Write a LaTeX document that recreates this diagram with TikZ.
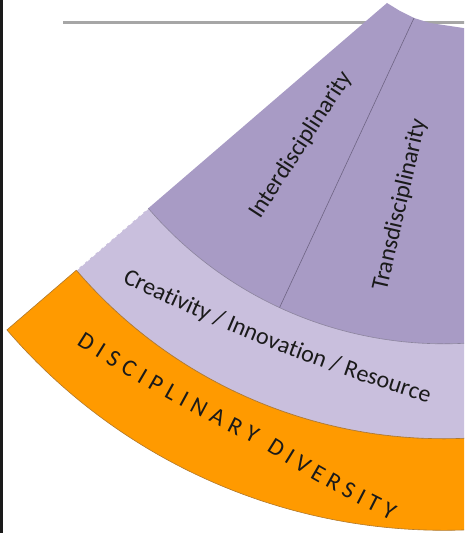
\documentclass[tikz,border=0pt]{standalone}
\usepackage{fontspec}
\newfontfamily\fanfont{Carlito}
\usepackage{xcolor}
\usepackage{tikz}
\usetikzlibrary{
    calc,
    decorations.text
}
\definecolor{fanpurple}{HTML}{A89BC5}
\definecolor{fanlilac}{HTML}{C9BFDD}
\definecolor{fanorange}{HTML}{FF9A00}
\definecolor{fanrule}{HTML}{A6A6A6}
\definecolor{fanedge}{HTML}{B0782C}
\definecolor{fanline}{HTML}{6E6484}
\definecolor{fantext}{HTML}{1A1A1A}
\newcommand{\fansize}{\fanfont\fontsize{24}{28}\selectfont}
\tikzset{
    % Straight label inside a sector
    sectorlabel/.style={
        font=\fansize,
        text=fantext,
        inner sep=0pt
    },
    % Label that follows a band
    bandlabel/.style={
        decorate,
        decoration={
            text along path,
            text align={fit to path},
            text color=fantext,
            text={|\fansize|#1}
        }
    },
    % Thin edge of a band
    bandedge/.style={
        draw=#1,
        line width=0.6pt
    },
    bandedge/.default=fanedge
}

\begin{document}
\begin{tikzpicture}[x=1pt, y=1pt]
    \useasboundingbox (0,0) rectangle (464,533);
    \begin{scope}
        \clip (0,0) rectangle (464,533);
        % rule behind the fan
        \coordinate (rule-l) at (63,510);
        \coordinate (rule-r) at (470,510);
        \draw[fanrule, line width=3pt] (rule-l) -- (rule-r);

        \coordinate (hub) at (443.5,578.6);
        % orange band
        \filldraw[fill=fanorange, bandedge]
            ([shift={(220.7:484.3)}]hub) arc[start angle=220.7, end angle=300, radius=484.3]
            -- ([shift={(300:575.9)}]hub) arc[start angle=300, end angle=220.7, radius=575.9]
            -- cycle;
        % lilac band
        \fill[fanlilac]
            ([shift={(220.7:389.4)}]hub) arc[start angle=220.7, end angle=300, radius=389.4]
            -- ([shift={(300:484.3)}]hub) arc[start angle=300, end angle=220.7, radius=484.3]
            -- cycle;
        \draw[white, line width=1pt, dash pattern=on 4pt off 3pt]
            ([shift={(220.7:389.4)}]hub) -- ([shift={(220.7:484.3)}]hub);
        \draw[bandedge] ([shift={(220.7:484.3)}]hub) arc[start angle=220.7, end angle=300, radius=484.3];
        % purple sectors, torn top edge
        \coordinate (apex) at (387,530);
        \coordinate (split-in) at (414,515);
        \fill[fanpurple]
            (apex) -- (400,522) -- (split-in) -- (430,510) -- (470,504)
            -- ([shift={(300:389.4)}]hub) arc[start angle=300, end angle=220.7, radius=389.4]
            -- cycle;
        \draw[bandedge=fanline!80] ([shift={(220.7:389.4)}]hub) arc[start angle=220.7, end angle=300, radius=389.4];
        \coordinate (split-out) at ([shift={(245.1:389.4)}]hub);
        \draw[bandedge=fanline] (split-in) -- (split-out);

        \node[sectorlabel, rotate=57] (inter) at (301,388) {Interdisciplinarity};
        \node[sectorlabel, rotate=77] (trans) at (400,328) {Transdisciplinarity};

        \path[bandlabel={Creativity / Innovation / Resource}] (122,251) to[bend right=4] (428,130);
        \path[bandlabel={D I S C I P L I N A R Y}] (76.2,188.7) to[bend right=3] (254,89.1);
        \path[bandlabel={D I V E R S I T Y}] (266.2,82.2) to[bend right=3] (389.2,13.3);
    \end{scope}
    % frame edge on the left
    \coordinate (edge-t) at (1.5,533);
    \coordinate (edge-b) at (1.5,0);
    \draw[fantext, line width=3pt] (edge-t) -- (edge-b);
\end{tikzpicture}
\end{document}
